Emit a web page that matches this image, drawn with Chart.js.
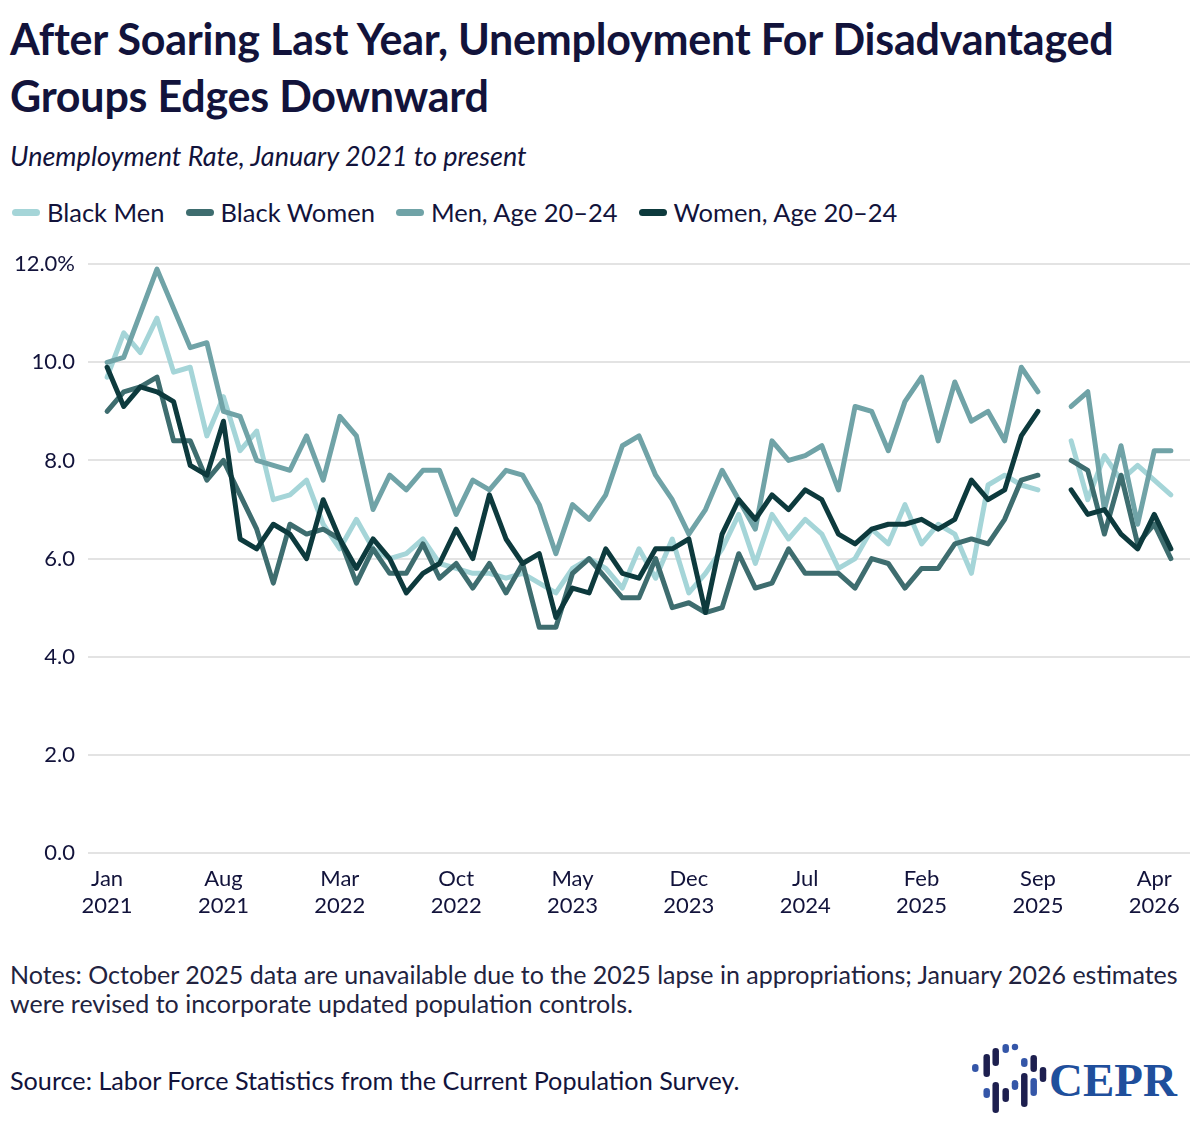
<!DOCTYPE html>
<html>
<head>
<meta charset="utf-8">
<script src="https://cdn.jsdelivr.net/npm/chart.js@4.4.1/dist/chart.umd.min.js"></script>
<style>
  html, body { margin: 0; padding: 0; background: #fff; }
  body { width: 1200px; height: 1145px; position: relative; overflow: hidden; font-family: Lato, "Noto Sans", sans-serif; color: #12133b; }
  #title { position: absolute; left: 10px; top: 10px; font-size: 43px; line-height: 57px; font-weight: 700; letter-spacing: -0.22px; white-space: nowrap; }
  #subtitle { position: absolute; left: 10px; top: 140px; font-size: 27px; line-height: 32px; font-style: italic; white-space: nowrap; }
  #legend { position: absolute; left: 12px; top: 196px; height: 32px; display: flex; align-items: center; font-size: 25.5px; white-space: nowrap; }
  #legend .item { display: flex; align-items: center; margin-right: 21px; }
  #legend .mark { width: 28px; height: 7px; border-radius: 4px; margin-right: 7px; }
  #wrap { position: absolute; left: 0; top: 238px; width: 1200px; height: 705px; }
  #notes { position: absolute; left: 10px; top: 960px; font-size: 25px; line-height: 29px; color: #22233f; white-space: nowrap; }
  #source { position: absolute; left: 10px; top: 1066px; font-size: 25.2px; line-height: 29px; white-space: nowrap; }
  #logo { position: absolute; left: 965px; top: 1035px; }
  #cepr { position: absolute; left: 1049px; top: 1052px; font-family: "Liberation Serif", serif; font-weight: 700; font-size: 47px; line-height: 56px; color: #1f4f9c; }
</style>
</head>
<body>
<div id="title">After Soaring Last Year, Unemployment For Disadvantaged<br>Groups Edges Downward</div>
<div id="subtitle">Unemployment Rate, January 2021 to present</div>
<div id="legend"></div>
<div id="wrap"><canvas id="chart"></canvas></div>
<div id="notes">Notes: October 2025 data are unavailable due to the 2025 lapse in appropriations; January 2026 estimates<br>were revised to incorporate updated population controls.</div>
<div id="source">Source: Labor Force Statistics from the Current Population Survey.</div>
<svg id="logo" width="90" height="95" viewBox="0 0 90 95">
  <g stroke-linecap="round" stroke-width="6.5" fill="none">
    <line x1="10.3" y1="32.3" x2="10.3" y2="33.7" stroke="#3456a8"/>
    <line x1="21.7" y1="22.3" x2="21.7" y2="38.7" stroke="#1d1f4f"/>
    <line x1="21.7" y1="56.3" x2="21.7" y2="59.7" stroke="#3456a8"/>
    <line x1="30.7" y1="16.3" x2="30.7" y2="27.7" stroke="#1d1f4f"/>
    <line x1="30.7" y1="50.3" x2="30.7" y2="74.7" stroke="#1d1f4f"/>
    <line x1="40.7" y1="12.3" x2="40.7" y2="14.7" stroke="#3456a8"/>
    <line x1="40.7" y1="56.3" x2="40.7" y2="63.7" stroke="#1d1f4f"/>
    <line x1="50" y1="12" x2="50" y2="12" stroke="#3456a8"/>
    <line x1="50" y1="48.3" x2="50" y2="51.7" stroke="#3456a8"/>
    <line x1="59.3" y1="26.3" x2="59.3" y2="28.7" stroke="#3456a8"/>
    <line x1="59.3" y1="41.3" x2="59.3" y2="68.7" stroke="#1d1f4f"/>
    <line x1="68.7" y1="23.3" x2="68.7" y2="33.7" stroke="#1d1f4f"/>
    <line x1="68.7" y1="46.3" x2="68.7" y2="57.7" stroke="#3456a8"/>
    <line x1="78" y1="35.3" x2="78" y2="43.7" stroke="#1d1f4f"/>
  </g>
</svg>
<div id="cepr">CEPR</div>
<script>
const months = [
  'Jan 2021','Feb 2021','Mar 2021','Apr 2021','May 2021','Jun 2021','Jul 2021','Aug 2021','Sep 2021','Oct 2021','Nov 2021','Dec 2021',
  'Jan 2022','Feb 2022','Mar 2022','Apr 2022','May 2022','Jun 2022','Jul 2022','Aug 2022','Sep 2022','Oct 2022','Nov 2022','Dec 2022',
  'Jan 2023','Feb 2023','Mar 2023','Apr 2023','May 2023','Jun 2023','Jul 2023','Aug 2023','Sep 2023','Oct 2023','Nov 2023','Dec 2023',
  'Jan 2024','Feb 2024','Mar 2024','Apr 2024','May 2024','Jun 2024','Jul 2024','Aug 2024','Sep 2024','Oct 2024','Nov 2024','Dec 2024',
  'Jan 2025','Feb 2025','Mar 2025','Apr 2025','May 2025','Jun 2025','Jul 2025','Aug 2025','Sep 2025','Oct 2025','Nov 2025','Dec 2025',
  'Jan 2026','Feb 2026','Mar 2026','Apr 2026','May 2026'
];
const tickMonths = ['Jan 2021','Aug 2021','Mar 2022','Oct 2022','May 2023','Dec 2023','Jul 2024','Feb 2025','Sep 2025','Apr 2026'];

// Oct 2025 is null (no data)
const blackMen = [
  9.7, 10.6, 10.2, 10.9, 9.8, 9.9, 8.5, 9.3, 8.2, 8.6, 7.2, 7.3,
  7.6, 6.7, 6.2, 6.8, 6.2, 6.0, 6.1, 6.4, 5.9, 5.8, 5.7, 5.7,
  5.6, 5.7, 5.5, 5.3, 5.8, 6.0, 5.8, 5.4, 6.2, 5.6, 6.4, 5.3,
  5.7, 6.2, 6.9, 5.9, 6.9, 6.4, 6.8, 6.5, 5.8, 6.0, 6.6, 6.3,
  7.1, 6.3, 6.7, 6.5, 5.7, 7.5, 7.7, 7.5, 7.4, null, 8.4, 7.2,
  8.1, 7.6, 7.9, 7.6, 7.3
];
const blackWomen = [
  9.0, 9.4, 9.5, 9.7, 8.4, 8.4, 7.6, 8.0, 7.3, 6.6, 5.5, 6.7,
  6.5, 6.6, 6.4, 5.5, 6.2, 5.7, 5.7, 6.3, 5.6, 5.9, 5.4, 5.9,
  5.3, 5.9, 4.6, 4.6, 5.7, 6.0, 5.6, 5.2, 5.2, 6.0, 5.0, 5.1,
  4.9, 5.0, 6.1, 5.4, 5.5, 6.2, 5.7, 5.7, 5.7, 5.4, 6.0, 5.9,
  5.4, 5.8, 5.8, 6.3, 6.4, 6.3, 6.8, 7.6, 7.7, null, 8.0, 7.8,
  6.5, 7.7, 6.3, 6.7, 6.0
];
const men2024 = [
  10.0, 10.1, 11.0, 11.9, 11.1, 10.3, 10.4, 9.0, 8.9, 8.0, 7.9, 7.8,
  8.5, 7.6, 8.9, 8.5, 7.0, 7.7, 7.4, 7.8, 7.8, 6.9, 7.6, 7.4,
  7.8, 7.7, 7.1, 6.1, 7.1, 6.8, 7.3, 8.3, 8.5, 7.7, 7.2, 6.5,
  7.0, 7.8, 7.2, 6.6, 8.4, 8.0, 8.1, 8.3, 7.4, 9.1, 9.0, 8.2,
  9.2, 9.7, 8.4, 9.6, 8.8, 9.0, 8.4, 9.9, 9.4, null, 9.1, 9.4,
  7.0, 8.3, 6.7, 8.2, 8.2
];
const women2024 = [
  9.9, 9.1, 9.5, 9.4, 9.2, 7.9, 7.7, 8.8, 6.4, 6.2, 6.7, 6.5,
  6.0, 7.2, 6.4, 5.8, 6.4, 6.0, 5.3, 5.7, 5.9, 6.6, 6.0, 7.3,
  6.4, 5.9, 6.1, 4.8, 5.4, 5.3, 6.2, 5.7, 5.6, 6.2, 6.2, 6.4,
  4.9, 6.5, 7.2, 6.8, 7.3, 7.0, 7.4, 7.2, 6.5, 6.3, 6.6, 6.7,
  6.7, 6.8, 6.6, 6.8, 7.6, 7.2, 7.4, 8.5, 9.0, null, 7.4, 6.9,
  7.0, 6.5, 6.2, 6.9, 6.2
];

const seriesNames = ['Black Men', 'Black Women', 'Men, Age 20\u201324', 'Women, Age 20\u201324'];
const seriesColors = ['#a5d5d8', '#3e6d6f', '#70a3a7', '#0d3a3d'];
const seriesValues = [blackMen, blackWomen, men2024, women2024];

const textColor = '#12133b';

const datasets = seriesValues.map((vals, i) => ({
  label: seriesNames[i],
  data: vals.map((v, j) => ({ x: j, y: v })),
  borderColor: seriesColors[i],
  backgroundColor: seriesColors[i],
  borderWidth: 5,
  pointRadius: 0,
  tension: 0,
  spanGaps: false,
  borderJoinStyle: 'round',
  borderCapStyle: 'round',
  order: seriesValues.length - i // last series drawn on top
}));

const chart = new Chart(document.getElementById('chart'), {
  type: 'line',
  data: { datasets },
  options: {
    responsive: true,
    maintainAspectRatio: false,
    animation: false,
    layout: { padding: { top: 16, right: 10, left: 0, bottom: 0 } },
    plugins: {
      legend: { display: false },
      tooltip: { enabled: false }
    },
    scales: {
      x: {
        type: 'linear',
        min: -1.15,
        max: months.length - 1 + 1.15,
        grid: { display: false },
        border: { display: false },
        afterBuildTicks: (scale) => {
          scale.ticks = tickMonths.map(m => ({ value: months.indexOf(m) }));
        },
        afterFit: (scale) => { scale.height = 90; },
        ticks: {
          autoSkip: false,
          maxRotation: 0,
          minRotation: 0,
          padding: 4,
          color: textColor,
          font: { family: 'Lato', size: 22, lineHeight: 1.23 },
          callback: (value) => months[value] ? months[value].split(' ') : ''
        }
      },
      y: {
        min: 0,
        max: 12,
        grid: { color: '#e3e3e3', lineWidth: 2, drawTicks: false },
        border: { display: false },
        afterFit: (scale) => { scale.width = 88; },
        ticks: {
          stepSize: 2,
          padding: 13,
          color: textColor,
          font: { family: 'Lato', size: 22 },
          callback: (value) => value === 12 ? '12.0%' : value.toFixed(1)
        }
      }
    }
  }
});

// html legend built from the chart's datasets
const legendEl = document.getElementById('legend');
chart.data.datasets.forEach(ds => {
  const item = document.createElement('div');
  item.className = 'item';
  const mark = document.createElement('span');
  mark.className = 'mark';
  mark.style.background = ds.borderColor;
  const txt = document.createElement('span');
  txt.textContent = ds.label;
  item.appendChild(mark);
  item.appendChild(txt);
  legendEl.appendChild(item);
});
</script>
</body>
</html>
